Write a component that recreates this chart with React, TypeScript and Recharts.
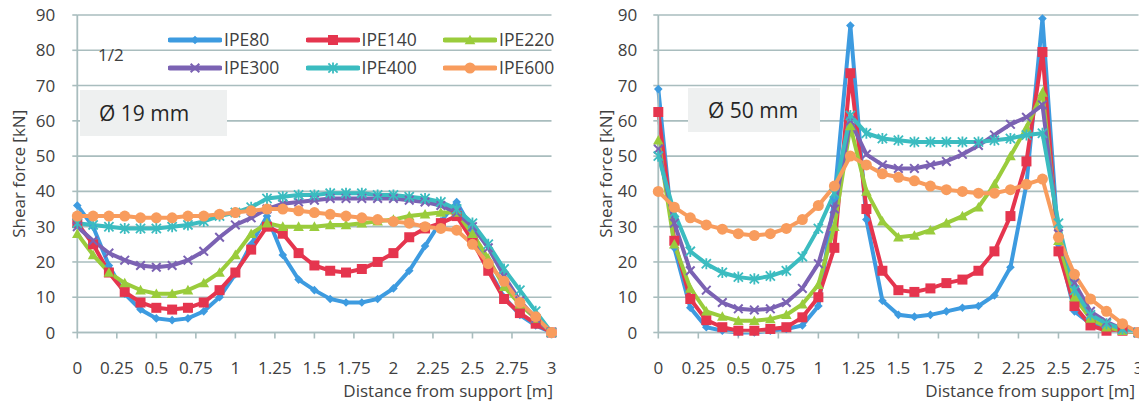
import React from "react";
import { LineChart, Line, XAxis, YAxis, CartesianGrid, Legend } from "recharts";

// distance from support [m]
const DIST = [0, 0.1, 0.2, 0.3, 0.4, 0.5, 0.6, 0.7, 0.8, 0.9, 1, 1.1, 1.2, 1.3, 1.4, 1.5, 1.6, 1.7, 1.8, 1.9, 2, 2.1, 2.2, 2.3, 2.4, 2.5, 2.6, 2.7, 2.8, 2.9, 3];
const X_TICKS = [0, 0.25, 0.5, 0.75, 1, 1.25, 1.5, 1.75, 2, 2.25, 2.5, 2.75, 3];
const Y_TICKS = [0, 10, 20, 30, 40, 50, 60, 70, 80, 90];

// shear force [kN], dowel Ø 19 mm
const IPE80_19 = [36, 30, 19, 11, 6.5, 4, 3.5, 4, 6, 10, 16.5, 25, 33, 22, 15, 12, 9.5, 8.5, 8.5, 9.5, 12.5, 17.5, 24.5, 31.5, 37, 29, 18, 10, 5, 2, 0];
const IPE140_19 = [31, 25, 17, 11.5, 8.5, 7, 6.5, 7, 8.5, 12, 17, 23.5, 30, 28, 22.5, 19, 17.5, 17, 18, 20, 22.5, 27, 29.5, 31, 33, 26, 17.5, 9.5, 5.5, 2.5, 0];
const IPE220_19 = [28, 22, 17, 14, 12, 11, 11, 12, 14, 17, 22, 28, 31, 30, 30, 30, 30.5, 30.5, 31, 31.5, 32, 33, 33.5, 34, 34, 28, 21, 13, 8, 4, 0];
const IPE300_19 = [30, 26, 22.5, 20.5, 19, 18.5, 19, 20.5, 23, 27, 30.5, 32.5, 35, 36.5, 37, 37.5, 38, 38, 38, 38, 38, 37.5, 37, 36, 34, 30, 24, 16, 9, 4, 0];
const IPE400_19 = [31, 30.5, 30, 29.5, 29.5, 29.5, 30, 30.5, 31.5, 33, 34, 35.5, 38, 38.5, 39, 39, 39.5, 39.5, 39.5, 39, 39, 38.5, 38, 37, 35, 31, 25, 18, 12, 6, 0];
const IPE600_19 = [33, 33, 33, 33, 32.5, 32.5, 32.5, 33, 33, 33.5, 34, 34.5, 35, 35, 34.5, 34, 33.5, 33, 32.5, 32, 31.5, 31, 30, 29.5, 29, 25, 19.5, 14.5, 8.5, 4.5, 0];

// shear force [kN], dowel Ø 50 mm
const IPE80_50 = [69, 24, 7, 1.5, 0.5, 0, 0, 0.5, 1, 2, 7.5, 38, 87, 32, 9, 5, 4.5, 5, 6, 7, 7.5, 10.5, 18.5, 42, 89, 25, 6, 2.5, 1, 0.5, 0];
const IPE140_50 = [62.5, 26, 9.5, 3.5, 1.5, 0.5, 0.5, 1, 1.5, 4.3, 10, 24, 73.5, 35, 17.5, 12, 11.5, 12.5, 14, 15, 17.5, 23, 33, 48.5, 79.5, 23, 7.5, 2, 0.5, 0.5, 0];
const IPE220_50 = [54.5, 25, 12.5, 6, 4.5, 3.3, 3.3, 3.8, 5, 8, 13.5, 30, 58.5, 40, 31.5, 27, 27.5, 29, 31, 33, 35.5, 42, 50, 58, 68, 26, 10, 4, 1.5, 0.5, 0];
const IPE300_50 = [52, 31, 17.5, 12, 8.5, 6.7, 6.4, 6.7, 8.5, 12.5, 19.5, 35, 60, 50.5, 47.5, 46.5, 46.5, 47.5, 48.5, 50.5, 53, 56, 59, 61, 64.5, 28, 14, 6, 3, 1, 0];
const IPE400_50 = [50, 34, 23, 19.5, 17, 15.7, 15.2, 16, 17.5, 21.5, 29.5, 39.5, 61.5, 56.5, 55, 54.5, 54, 54, 54, 54, 54, 54.5, 55, 56, 56.5, 31, 12, 5, 2.5, 1, 0];
const IPE600_50 = [40, 35.5, 32.5, 30.5, 29.3, 28, 27.5, 28, 29.5, 32, 36, 41.5, 50, 47.5, 45, 44, 43, 41.5, 40.5, 40, 39.5, 39.5, 40.5, 42, 43.5, 27, 16.5, 9.5, 6, 2.5, 0];

type Shape = "diamond" | "square" | "triangle" | "cross" | "star" | "circle";

const SERIES: { name: string; color: string; shape: Shape }[] = [
  { name: "IPE80", color: "#3d9be0", shape: "diamond" },
  { name: "IPE140", color: "#e5354e", shape: "square" },
  { name: "IPE220", color: "#9acc3c", shape: "triangle" },
  { name: "IPE300", color: "#7b62b3", shape: "cross" },
  { name: "IPE400", color: "#3bbcc0", shape: "star" },
  { name: "IPE600", color: "#f89c5d", shape: "circle" },
];

const FONT = '"Open Sans", sans-serif';
const GRID = "#a9bdbe";
const TEXT = "#404040";

function buildRows(cols: number[][]) {
  return DIST.map((d, i) => {
    const row: Record<string, number> = { d };
    SERIES.forEach((s, k) => (row[s.name] = cols[k][i]));
    return row;
  });
}

const rows19 = buildRows([IPE80_19, IPE140_19, IPE220_19, IPE300_19, IPE400_19, IPE600_19]);
const rows50 = buildRows([IPE80_50, IPE140_50, IPE220_50, IPE300_50, IPE400_50, IPE600_50]);

function Marker({ shape, cx, cy, color, s = 1 }: { shape: Shape; cx: number; cy: number; color: string; s?: number }) {
  if (cx == null || cy == null) return <g />;
  switch (shape) {
    case "diamond": {
      const r = 4.3 * s;
      return <polygon points={`${cx},${cy - r} ${cx + r},${cy} ${cx},${cy + r} ${cx - r},${cy}`} fill={color} />;
    }
    case "square": {
      const r = 5 * s;
      return <rect x={cx - r} y={cy - r} width={2 * r} height={2 * r} fill={color} />;
    }
    case "triangle": {
      const r = 5.3 * s;
      return <polygon points={`${cx},${cy - r} ${cx + r},${cy + 0.8 * r} ${cx - r},${cy + 0.8 * r}`} fill={color} />;
    }
    case "cross": {
      const r = 4.3 * s;
      return (
        <path d={`M${cx - r},${cy - r}L${cx + r},${cy + r}M${cx + r},${cy - r}L${cx - r},${cy + r}`} stroke={color} strokeWidth={2} />
      );
    }
    case "star": {
      const r = 4.6 * s;
      return (
        <path
          d={`M${cx - r},${cy - r}L${cx + r},${cy + r}M${cx + r},${cy - r}L${cx - r},${cy + r}M${cx},${cy - r * 1.2}L${cx},${cy + r * 1.2}`}
          stroke={color}
          strokeWidth={1.8}
        />
      );
    }
    default:
      return <circle cx={cx} cy={cy} r={5.5 * s} fill={color} />;
  }
}

const makeDot = (shape: Shape, color: string) => (p: any) => (
  <Marker key={`m-${p.index}`} shape={shape} cx={p.cx} cy={p.cy} color={color} />
);

function LegendBox() {
  return (
    <div style={{ display: "flex", flexWrap: "wrap", width: 413, fontFamily: FONT }}>
      {SERIES.map((s) => (
        <div key={s.name} style={{ display: "flex", alignItems: "center", width: 137.5, height: 28 }}>
          <svg width={54} height={14}>
            <line x1={2} y1={7} x2={52} y2={7} stroke={s.color} strokeWidth={5} strokeLinecap="round" />
            <Marker shape={s.shape} cx={27} cy={7} color={s.color} s={1} />
          </svg>
          <span style={{ marginLeft: 2, fontSize: 17.5, color: TEXT, lineHeight: 1 }}>{s.name}</span>
        </div>
      ))}
    </div>
  );
}

const yTitle = (x: number) => (props: any) => {
  const vb = props.viewBox || {};
  const y = (vb.y ?? 15) + (vb.height ?? 317.5) / 2;
  return (
    <text x={x} y={y} transform={`rotate(-90 ${x} ${y})`} textAnchor="middle" dominantBaseline="central" fill={TEXT} fontSize={17} fontFamily={FONT}>
      Shear force [kN]
    </text>
  );
};

const xTitle = (dx: number) => (props: any) => {
  const vb = props.viewBox || {};
  return (
    <text x={vb.x + vb.width + dx} y={vb.y + 64.5} textAnchor="end" fill={TEXT} fontSize={17} fontFamily={FONT}>
      Distance from support [m]
    </text>
  );
};

function Panel({
  data,
  width,
  yWidth,
  right,
  yTitleX,
  xTitleDx,
  yTickMargin,
  legend,
}: {
  data: Record<string, number>[];
  width: number;
  yWidth: number;
  right: number;
  yTitleX: number;
  xTitleDx: number;
  yTickMargin: number;
  legend?: boolean;
}) {
  const tick = { fill: TEXT, fontSize: 17, fontFamily: FONT };
  return (
    <LineChart width={width} height={403} data={data} margin={{ top: 15, right, bottom: 0, left: 0 }}>
      <CartesianGrid vertical={false} stroke={GRID} strokeWidth={1.6} />
      <XAxis
        dataKey="d"
        type="number"
        domain={[0, 3]}
        ticks={X_TICKS}
        interval={0}
        height={70.5}
        tick={tick}
        tickSize={6}
        tickMargin={23.5}
        axisLine={{ stroke: GRID, strokeWidth: 1.6 }}
        tickLine={{ stroke: GRID, strokeWidth: 1.6 }}
        label={xTitle(xTitleDx)}
      />
      <YAxis
        domain={[0, 90]}
        ticks={Y_TICKS}
        interval={0}
        width={yWidth}
        tick={tick}
        tickSize={5}
        tickMargin={yTickMargin}
        axisLine={{ stroke: GRID, strokeWidth: 1.8 }}
        tickLine={{ stroke: GRID, strokeWidth: 1.6 }}
        label={yTitle(yTitleX)}
      />
      {legend && (
        <Legend
          layout="vertical"
          align="center"
          verticalAlign="middle"
          wrapperStyle={{ left: 168, top: 26, width: 413 }}
          content={() => <LegendBox />}
        />
      )}
      {SERIES.map((s) => (
        <Line
          key={s.name}
          type="linear"
          dataKey={s.name}
          stroke={s.color}
          strokeWidth={4}
          dot={makeDot(s.shape, s.color)}
          activeDot={false}
          isAnimationActive={false}
        />
      ))}
    </LineChart>
  );
}

const noteBox: React.CSSProperties = {
  position: "absolute",
  background: "#eef0f0",
  fontFamily: FONT,
  fontSize: 21,
  color: "#262626",
  display: "flex",
  alignItems: "center",
  boxSizing: "border-box",
};

export default function App() {
  return (
    <div style={{ position: "absolute", left: 0, top: 0, width: 1139, height: 403, background: "#fff", overflow: "hidden" }}>
      <div style={{ position: "absolute", left: 0, top: 0 }}>
        <Panel data={rows19} width={560} yWidth={77.3} right={8.5} yTitleX={18} xTitleDx={1.5} yTickMargin={17} legend />
      </div>
      <div style={{ position: "absolute", left: 570, top: 0 }}>
        <Panel data={rows50} width={569} yWidth={88.3} right={0.5} yTitleX={35} xTitleDx={-3.5} yTickMargin={16} />
      </div>
      <div style={{ position: "absolute", left: 98, top: 44, fontFamily: FONT, fontSize: 17, color: TEXT, lineHeight: "22px" }}>1/2</div>
      <div style={{ ...noteBox, left: 80, top: 90, width: 147, height: 46, paddingLeft: 19 }}>Ø 19 mm</div>
      <div style={{ ...noteBox, left: 688, top: 88, width: 132, height: 44, paddingLeft: 20 }}>Ø 50 mm</div>
    </div>
  );
}
